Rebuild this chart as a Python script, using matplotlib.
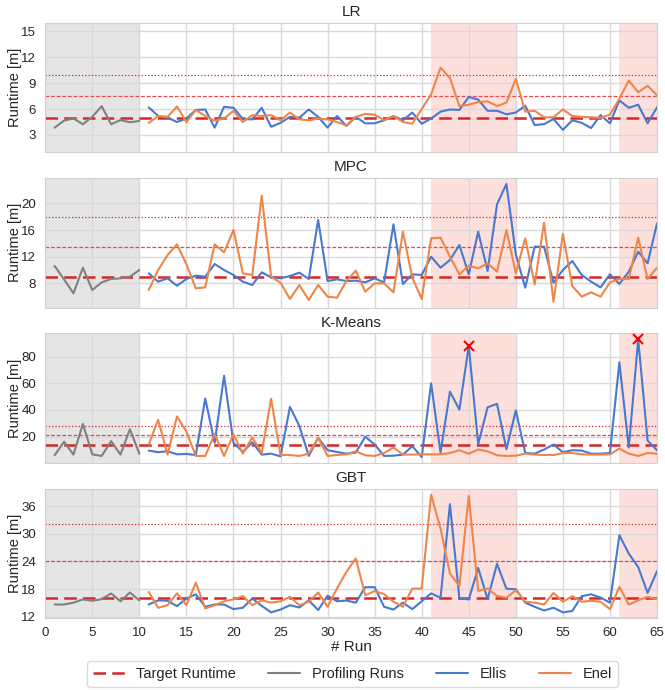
import matplotlib
matplotlib.use("Agg")
import matplotlib.pyplot as plt
import seaborn as sns

sns.set_style("whitegrid")
plt.rcParams["font.family"] = ["Liberation Sans", "DejaVu Sans"]

# runs
profiling_runs = list(range(1, 11))
adaptive_runs = list(range(11, 66))

# LR
lr_target = 5
lr_profiling = [3.85, 4.66, 4.92, 4.24, 5.11, 6.34, 4.24, 4.73, 4.47, 4.62]
lr_ellis = [6.2, 5.2, 5.0, 4.5, 4.9, 5.9, 5.95, 3.85, 6.25, 6.15,
            4.85, 4.8, 6.15, 3.95, 4.4, 5.1, 5.0, 5.95, 5.1, 3.85,
            5.2, 4.05, 5.1, 4.35, 4.35, 4.7, 5.2, 4.7, 5.6, 4.3,
            4.9, 5.7, 5.95, 5.9, 7.4, 7.1, 5.8, 5.8, 5.4, 5.6,
            6.4, 4.15, 4.25, 4.85, 3.6, 4.7, 4.4, 3.8, 5.3, 4.35,
            7.0, 6.15, 6.5, 4.35, 6.2]
lr_enel = [4.4, 5.2, 5.1, 6.3, 4.5, 5.9, 5.2, 4.65, 4.9, 5.8,
           4.5, 5.3, 5.2, 5.3, 4.7, 5.6, 4.8, 4.7, 4.9, 4.8,
           4.5, 4.1, 5.1, 5.45, 5.35, 4.7, 5.2, 4.5, 4.3, 6.0,
           7.7, 10.8, 9.6, 6.35, 6.5, 6.8, 6.9, 6.35, 6.75, 9.5,
           5.7, 5.8, 5.05, 5.05, 5.95, 5.2, 5.1, 5.05, 5.0, 5.35,
           7.2, 9.3, 7.95, 8.7, 7.6]

# MPC
mpc_target = 9
mpc_profiling = [10.6, 8.6, 6.5, 10.35, 7.0, 8.15, 8.65, 8.75, 9.0, 10.0]
mpc_ellis = [9.5, 8.25, 8.75, 7.65, 8.65, 9.15, 9.0, 10.9, 10.0, 9.25,
             8.25, 7.75, 9.65, 8.9, 8.75, 9.1, 9.6, 8.65, 17.5, 8.35,
             8.6, 8.35, 8.4, 8.15, 8.75, 8.15, 16.85, 7.9, 9.35, 9.25,
             12.0, 10.35, 11.5, 13.75, 9.35, 15.75, 9.85, 19.85, 22.9, 12.35,
             7.35, 13.5, 13.5, 8.1, 10.0, 11.35, 9.25, 8.25, 7.4, 9.35,
             7.9, 9.75, 12.75, 11.0, 17.0]
mpc_enel = [7.0, 10.0, 12.25, 13.85, 10.85, 7.25, 7.4, 13.85, 12.65, 16.0,
            9.5, 9.25, 21.15, 9.0, 8.1, 5.65, 7.75, 5.5, 7.75, 6.0,
            5.85, 8.35, 9.9, 6.75, 8.0, 8.0, 6.65, 15.75, 8.85, 5.65,
            14.75, 14.85, 12.0, 9.35, 10.65, 10.25, 11.0, 9.75, 16.0, 9.5,
            14.75, 7.85, 17.1, 5.25, 15.4, 7.6, 6.0, 6.65, 6.0, 8.15,
            8.65, 8.65, 14.85, 8.65, 10.35]

# K-Means
km_target = 14
km_profiling = [6.1, 16.2, 6.6, 29.6, 6.8, 5.6, 16.7, 6.6, 25.6, 7.3]
km_ellis = [9.6, 8.4, 9.1, 6.8, 7.1, 6.3, 48.6, 15.4, 65.6, 15.4,
            8.6, 15.9, 6.6, 7.3, 5.3, 42.3, 28.1, 5.6, 19.2, 9.9,
            8.6, 7.3, 8.1, 20.0, 14.2, 5.6, 5.8, 6.6, 12.9, 4.8,
            60.0, 8.1, 53.7, 40.3, 87.8, 14.4, 42.0, 44.6, 10.6, 39.7,
            7.8, 7.3, 10.4, 14.2, 8.4, 9.9, 9.6, 7.3, 7.3, 7.8,
            75.7, 11.9, 92.9, 17.0, 9.9]
km_enel = [14.2, 32.7, 6.6, 35.2, 23.8, 5.6, 5.6, 22.0, 5.6, 21.8,
           7.3, 19.5, 7.8, 48.4, 6.3, 6.3, 5.6, 7.3, 19.2, 5.6,
           6.3, 6.8, 9.1, 6.1, 5.6, 7.8, 11.9, 6.6, 6.6, 6.8,
           6.8, 6.8, 7.8, 9.9, 7.3, 10.4, 9.1, 6.1, 5.6, 5.8,
           7.3, 6.6, 6.3, 6.3, 7.8, 7.8, 6.8, 6.6, 6.6, 6.8,
           11.1, 7.3, 5.6, 7.8, 7.3]
km_failed = [45, 63]

# GBT
gbt_target = 16
gbt_profiling = [14.7, 14.7, 15.1, 15.8, 15.5, 15.85, 17.1, 15.4, 17.3, 15.6]
gbt_ellis = [14.7, 15.6, 15.5, 14.35, 16.0, 16.9, 14.2, 14.7, 14.7, 13.7,
             14.0, 16.0, 14.4, 13.0, 13.6, 14.55, 14.05, 15.6, 13.5, 16.6,
             15.4, 15.55, 15.1, 18.45, 18.45, 14.2, 13.6, 15.1, 13.7, 15.4,
             17.1, 16.15, 36.4, 16.0, 15.8, 22.6, 15.85, 23.5, 18.1, 18.0,
             15.1, 14.2, 13.4, 14.0, 13.0, 13.3, 16.5, 16.9, 16.2, 15.1,
             29.7, 25.7, 22.8, 17.2, 21.9]
gbt_enel = [17.4, 14.0, 14.55, 17.1, 14.55, 19.4, 13.85, 14.55, 15.4, 15.8,
            16.5, 14.55, 15.6, 15.1, 15.4, 16.35, 14.55, 15.3, 17.3, 14.2,
            18.15, 21.75, 24.65, 16.7, 17.6, 16.95, 15.3, 14.2, 18.15, 18.15,
            38.45, 31.1, 21.4, 18.7, 38.15, 17.65, 18.15, 16.55, 16.15, 17.8,
            15.3, 15.1, 14.7, 17.2, 15.3, 16.5, 15.3, 15.5, 15.3, 13.7,
            18.5, 14.7, 15.6, 16.35, 15.85]

panels = [
    ("LR", lr_target, lr_profiling, lr_ellis, lr_enel, [3, 6, 9, 12, 15]),
    ("MPC", mpc_target, mpc_profiling, mpc_ellis, mpc_enel, [8, 12, 16, 20]),
    ("K-Means", km_target, km_profiling, km_ellis, km_enel, [20, 40, 60, 80]),
    ("GBT", gbt_target, gbt_profiling, gbt_ellis, gbt_enel, [12, 18, 24, 30, 36]),
]

red = "#d62728"
fig, axes = plt.subplots(4, 1, figsize=(6.65, 6.9), dpi=100, sharex=True)
fig.subplots_adjust(left=0.068, right=0.988, top=0.967, bottom=0.104, hspace=0.2)

for ax, (name, target, prof, ellis, enel, yticks) in zip(axes, panels):
    # shaded phases
    ax.axvspan(0, 10, color="#e5e5e5", zorder=0.5, lw=0)
    ax.axvspan(41, 50, color="#fde0dc", zorder=0.5, lw=0)
    ax.axvspan(61, 65, color="#fde0dc", zorder=0.5, lw=0)

    ax.axhline(target * 2, color=red, lw=0.9, ls=":", zorder=2)
    ax.axhline(target * 1.5, color="#e8474a", lw=0.9, ls=(0, (3, 1.5)), zorder=2)
    ax.axhline(target, color=red, lw=1.8, ls=(0, (5, 2.5)), zorder=2, label="Target Runtime")

    ax.plot(profiling_runs, prof, color="#808080", lw=1.5, label="Profiling Runs", zorder=3)
    ax.plot(adaptive_runs, ellis, color="#4878d0", lw=1.5, label="Ellis", zorder=3)
    ax.plot(adaptive_runs, enel, color="#ee854a", lw=1.5, label="Enel", zorder=3)

    if name == "K-Means":
        fx = km_failed
        fy = [ellis[adaptive_runs.index(r)] for r in fx]
        ax.plot(fx, fy, ls="none", marker="x", color="red", ms=7, mew=1.5, zorder=4)

    ax.set_title(name, fontsize=11, pad=5)
    ax.set_ylabel("Runtime [m]", fontsize=10.5)
    ax.yaxis.set_label_coords(-0.038, 0.5)
    ax.set_yticks(yticks)
    ax.tick_params(labelsize=9.5, pad=3)
    ax.set_xlim(0, 65)
    ax.set_xticks(range(0, 66, 5))
    ax.grid(True, color="#d9d9d9", lw=1.0)
    for s in ax.spines.values():
        s.set_color("#d0d0d0")

axes[0].set_ylim(1, 16)
axes[-1].set_xlabel("# Run", fontsize=11, labelpad=1)
axes[-1].tick_params(axis="x", pad=2.5)

handles, labels = axes[0].get_legend_handles_labels()
fig.legend(handles, labels, loc="lower center", bbox_to_anchor=(0.53, -0.006), ncol=4,
           fontsize=10.5, frameon=True, columnspacing=2.2, handlelength=2.2,
           edgecolor="#d0d0d0")

plt.savefig("out.png", dpi=100)
